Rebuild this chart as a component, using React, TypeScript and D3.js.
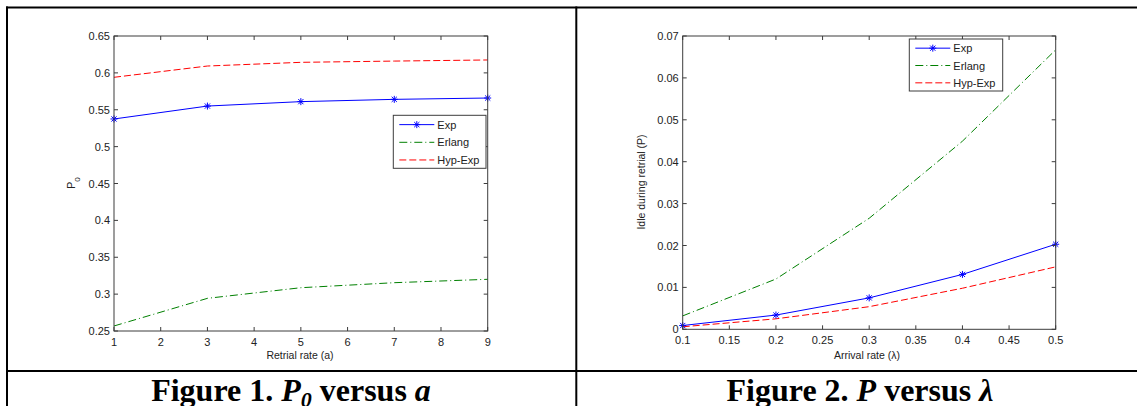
import React from "react";
import * as d3 from "d3";

// ---------- Data ----------
const retrialRates = [1, 3, 5, 7, 9];
const fig1Exp = [0.5375, 0.555, 0.561, 0.5641, 0.5659];
const fig1Erlang = [0.2568, 0.2943, 0.3087, 0.3155, 0.3201];
const fig1HypExp = [0.594, 0.6093, 0.6143, 0.616, 0.6175];
const fig1XTicks = [1, 2, 3, 4, 5, 6, 7, 8, 9];
const fig1YTicks = [0.25, 0.3, 0.35, 0.4, 0.45, 0.5, 0.55, 0.6, 0.65];

const arrivalRates = [0.1, 0.2, 0.3, 0.4, 0.5];
const fig2Exp = [0.0009, 0.0034, 0.0075, 0.0131, 0.0203];
const fig2Erlang = [0.0032, 0.012, 0.0265, 0.0449, 0.0667];
const fig2HypExp = [0.0006, 0.0025, 0.0054, 0.0098, 0.0149];
const fig2XTicks = [0.1, 0.15, 0.2, 0.25, 0.3, 0.35, 0.4, 0.45, 0.5];
const fig2YTicks = [0, 0.01, 0.02, 0.03, 0.04, 0.05, 0.06, 0.07];

const seriesNames = ["Exp", "Erlang", "Hyp-Exp"];

const COLORS = ["#0000ff", "#008000", "#ff0000"];
const DASH = [null, "8,3,1,3", "7,3"];
const AXIS = "#3c3c3c";
const FONT = "'Liberation Sans', Arial, Helvetica, sans-serif";
const TICK_FS = 11;
const LABEL_FS = 10.5;

function Star({ x, y, color }: { x: number; y: number; color: string }) {
  const r = 3.5;
  const d = 2.6;
  return (
    <g stroke={color} strokeWidth={1}>
      <line x1={x - r} y1={y} x2={x + r} y2={y} />
      <line x1={x} y1={y - r} x2={x} y2={y + r} />
      <line x1={x - d} y1={y - d} x2={x + d} y2={y + d} />
      <line x1={x - d} y1={y + d} x2={x + d} y2={y - d} />
    </g>
  );
}

type ChartProps = {
  left: number;
  right: number;
  top: number;
  bottom: number;
  xDomain: [number, number];
  yDomain: [number, number];
  xTicks: number[];
  yTicks: number[];
  xs: number[];
  series: number[][];
  xLabel: string;
  xLabelX: number;
  yLabel: React.ReactNode;
  yLabelX: number;
  yLabelY: number;
  legend: { x0: number; x1: number; y0: number; y1: number };
  yFmt: (v: number) => string;
  xFmt: (v: number) => string;
};

function Chart(p: ChartProps) {
  const x = d3.scaleLinear().domain(p.xDomain).range([p.left, p.right]);
  const y = d3.scaleLinear().domain(p.yDomain).range([p.bottom, p.top]);
  const line = d3
    .line<number>()
    .x((_, i) => x(p.xs[i]))
    .y((v) => y(v));
  const tl = 4;
  const lg = p.legend;
  const rowH = (lg.y1 - lg.y0) / 3;
  return (
    <g fontFamily={FONT}>
      {p.series.map((s, k) => (
        <path
          key={k}
          d={line(s) || ""}
          fill="none"
          stroke={COLORS[k]}
          strokeWidth={1}
          strokeDasharray={DASH[k] || undefined}
        />
      ))}
      {p.series[0].map((v, i) => (
        <Star key={i} x={x(p.xs[i])} y={y(v)} color={COLORS[0]} />
      ))}
      <rect
        x={p.left}
        y={p.top}
        width={p.right - p.left}
        height={p.bottom - p.top}
        fill="none"
        stroke={AXIS}
        strokeWidth={1}
      />
      {p.xTicks.map((t, i) => (
        <g key={"xt" + i}>
          <line x1={x(t)} x2={x(t)} y1={p.bottom} y2={p.bottom - tl} stroke={AXIS} />
          <line x1={x(t)} x2={x(t)} y1={p.top} y2={p.top + tl} stroke={AXIS} />
          <text x={x(t)} y={p.bottom + 14.5} fontSize={TICK_FS} textAnchor="middle" fill="#222">
            {p.xFmt(t)}
          </text>
        </g>
      ))}
      {p.yTicks.map((t, i) => (
        <g key={"yt" + i}>
          <line x1={p.left} x2={p.left + tl} y1={y(t)} y2={y(t)} stroke={AXIS} />
          <line x1={p.right} x2={p.right - tl} y1={y(t)} y2={y(t)} stroke={AXIS} />
          <text x={p.left - 4} y={y(t) + 4} fontSize={TICK_FS} textAnchor="end" fill="#222">
            {p.yFmt(t)}
          </text>
        </g>
      ))}
      <text x={p.xLabelX} y={359} fontSize={LABEL_FS} textAnchor="middle" fill="#222">
        {p.xLabel}
      </text>
      <text
        transform={`translate(${p.yLabelX},${p.yLabelY}) rotate(-90)`}
        fontSize={LABEL_FS}
        textAnchor="middle"
        fill="#222"
      >
        {p.yLabel}
      </text>
      <rect
        x={lg.x0}
        y={lg.y0}
        width={lg.x1 - lg.x0}
        height={lg.y1 - lg.y0}
        fill="#fff"
        stroke={AXIS}
        strokeWidth={1}
      />
      {seriesNames.map((n, k) => {
        const cy = lg.y0 + rowH * (k + 0.5) + 0.5;
        const lx0 = lg.x0 + 6;
        const lx1 = lg.x0 + 41;
        return (
          <g key={n}>
            <line
              x1={lx0}
              x2={lx1}
              y1={cy}
              y2={cy}
              stroke={COLORS[k]}
              strokeDasharray={DASH[k] || undefined}
            />
            {k === 0 && <Star x={(lx0 + lx1) / 2} y={cy} color={COLORS[0]} />}
            <text x={lx1 + 3} y={cy + 4} fontSize={TICK_FS} fill="#222">
              {n}
            </text>
          </g>
        );
      })}
    </g>
  );
}

export default function App() {
  const fmt = (v: number) => d3.format("")(+v.toFixed(3));
  return (
    <svg
      width={1137}
      height={406}
      style={{ position: "absolute", left: 0, top: 0, background: "#fff" }}
    >
      <rect x={0} y={0} width={1137} height={406} fill="#fff" />
      <rect x={6} y={6.5} width={1131} height={2} fill="#000" />
      <rect x={6} y={6.5} width={2} height={400} fill="#000" />
      <rect x={575.3} y={6.5} width={2} height={400} fill="#000" />
      <rect x={6} y={370} width={1131} height={2} fill="#000" />

      <Chart
        left={114}
        right={487.7}
        top={36}
        bottom={331}
        xDomain={[1, 9]}
        yDomain={[0.25, 0.65]}
        xTicks={fig1XTicks}
        yTicks={fig1YTicks}
        xs={retrialRates}
        series={[fig1Exp, fig1Erlang, fig1HypExp]}
        xLabel="Retrial rate (a)"
        xLabelX={300}
        yLabel={
          <>
            P<tspan baselineShift="sub" fontSize={8}>0</tspan>
          </>
        }
        yLabelX={75}
        yLabelY={183}
        legend={{ x0: 393.3, x1: 486, y0: 115.3, y1: 168.3 }}
        yFmt={fmt}
        xFmt={fmt}
      />
      <Chart
        left={682.7}
        right={1055.7}
        top={36}
        bottom={329.3}
        xDomain={[0.1, 0.5]}
        yDomain={[0, 0.07]}
        xTicks={fig2XTicks}
        yTicks={fig2YTicks}
        xs={arrivalRates}
        series={[fig2Exp, fig2Erlang, fig2HypExp]}
        xLabel="Arrival rate (λ)"
        xLabelX={867}
        yLabel="Idle during retrial (P)"
        yLabelX={645}
        yLabelY={182}
        legend={{ x0: 909.3, x1: 1002.7, y0: 39, y1: 91 }}
        yFmt={fmt}
        xFmt={fmt}
      />

      <text
        x={291}
        y={401}
        fontFamily="'Liberation Serif', 'Times New Roman', serif"
        fontWeight="bold"
        fontSize={32}
        textAnchor="middle"
      >
        Figure 1.{" "}
        <tspan fontStyle="italic">P</tspan>
        <tspan fontStyle="italic" fontSize={22} dy={6}>0</tspan>
        <tspan dy={-6}> versus </tspan>
        <tspan fontStyle="italic">a</tspan>
      </text>
      <text
        x={860}
        y={401}
        fontFamily="'Liberation Serif', 'Times New Roman', serif"
        fontWeight="bold"
        fontSize={32}
        textAnchor="middle"
      >
        Figure 2. <tspan fontStyle="italic">P</tspan> versus{" "}
        <tspan fontStyle="italic">λ</tspan>
      </text>
    </svg>
  );
}
